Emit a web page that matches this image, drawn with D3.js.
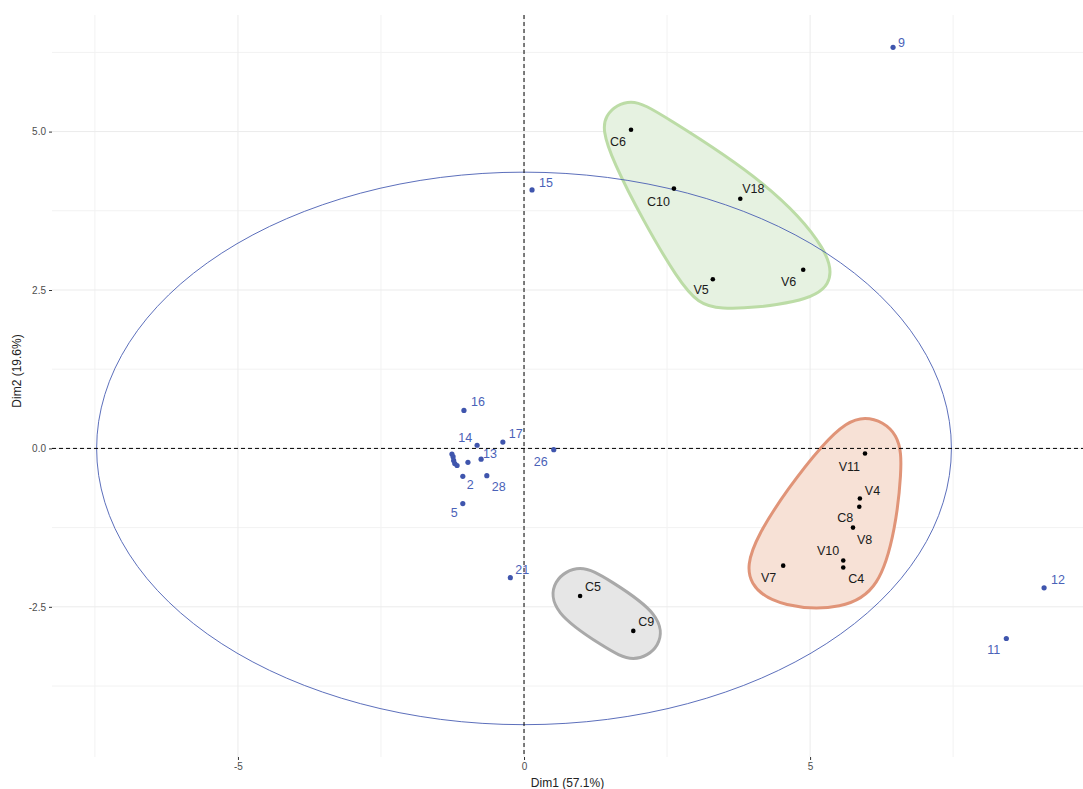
<!DOCTYPE html>
<html>
<head>
<meta charset="utf-8">
<script src="https://cdn.jsdelivr.net/npm/d3@7"></script>
<style>
  body { margin: 0; background: #fff; }
  svg { display: block; font-family: "Liberation Sans", Arial, sans-serif; }
</style>
</head>
<body>
<svg id="chart" width="1083" height="789"></svg>
<script>
// ---------------- DATA ----------------
const indNames = ["9", "15", "16", "14", "17", "13", "26", "2", "28", "5", "21", "12", "11", "", "", "", "", "", ""];
const indX = [6.45, 0.14, -1.05, -0.82, -0.37, -0.75, 0.52, -1.07, -0.65, -1.07, -0.24, 9.09, 8.43, -1.26, -1.24, -1.23, -1.21, -1.17, -0.98];
const indY = [6.33, 4.08, 0.60, 0.05, 0.10, -0.17, -0.02, -0.44, -0.43, -0.87, -2.04, -2.20, -3.00, -0.09, -0.13, -0.19, -0.24, -0.27, -0.22];

const varNames = ["C6", "C10", "V18", "V5", "V6", "V11", "V4", "C8", "V8", "V10", "C4", "V7", "C5", "C9"];
const varX = [1.87, 2.62, 3.78, 3.30, 4.88, 5.96, 5.87, 5.86, 5.75, 5.58, 5.58, 4.53, 0.98, 1.91];
const varY = [5.03, 4.10, 3.94, 2.67, 2.82, -0.08, -0.79, -0.92, -1.25, -1.77, -1.88, -1.85, -2.33, -2.88];
const varGroup = ["g", "g", "g", "g", "g", "o", "o", "o", "o", "o", "o", "o", "k", "k"];

const groupIds = ["g", "o", "k"];

const xTicks = [-5, 0, 5];
const xTickLabels = ["-5", "0", "5"];
const yTicks = [-2.5, 0, 2.5, 5];
const yTickLabels = ["-2.5", "0.0", "2.5", "5.0"];
const xMinor = [-7.5, -2.5, 2.5, 7.5];
const yMinor = [-3.75, -1.25, 1.25, 3.75, 6.25];

const ellipseRadii = [7.47, 4.36];
const xTitle = "Dim1 (57.1%)";
const yTitle = "Dim2 (19.6%)";

// ---------------- LAYOUT / STYLE ----------------
const W = 1083, H = 789;
const panel = { left: 52, right: 1083, top: 15, bottom: 757 };
const hullStyle = {
  g: { fill: "#e6f2e1", stroke: "#bcdca6", r: 33, n: 6 },
  o: { fill: "#f7e1d6", stroke: "#e09478", r: 42, n: 6 },
  k: { fill: "#e6e6e6", stroke: "#a9a9a9", r: 33, n: 6 }
};
const blue = "#3f55ad";
const blueText = "#4a62b8";

// label offsets (px) relative to points
const indLabelOff = {
  "9": [5, -5, "start"], "15": [7, -7, "start"], "16": [7, -9, "start"], "14": [-5, -8, "end"],
  "17": [6, -8, "start"], "13": [2, -6, "start"], "26": [-6, 12, "end"], "2": [4, 8, "start"],
  "28": [5, 11, "start"], "5": [-5, 9, "end"], "21": [5, -8, "start"], "12": [7, -8, "start"],
  "11": [-6, 11, "end"]
};
const varLabelOff = {
  "C6": [-5, 12, "end"], "C10": [-4, 13, "end"], "V18": [2, -10, "start"], "V5": [-4, 10, "end"],
  "V6": [-7, 12, "end"], "V11": [-5, 13, "end"], "V4": [5, -8, "start"], "C8": [-6, 11, "end"],
  "V8": [4, 12, "start"], "V10": [-4, -10, "end"], "C4": [5, 11, "start"], "V7": [-7, 12, "end"],
  "C5": [5, -9, "start"], "C9": [5, -9, "start"]
};

// ---------------- SCALES ----------------
const x = d3.scaleLinear().domain([-8.25, 9.77]).range([panel.left, panel.right]);
const y = d3.scaleLinear().domain([-4.87, 6.84]).range([panel.bottom, panel.top]);

const svg = d3.select("#chart");
svg.append("rect").attr("width", W).attr("height", H).attr("fill", "#fff");

// grid
const grid = svg.append("g");
grid.selectAll(".vminor").data(xMinor).join("line")
  .attr("x1", d => x(d)).attr("x2", d => x(d)).attr("y1", panel.top).attr("y2", panel.bottom)
  .attr("stroke", "#f2f2f2").attr("stroke-width", 1);
grid.selectAll(".hminor").data(yMinor).join("line")
  .attr("y1", d => y(d)).attr("y2", d => y(d)).attr("x1", panel.left).attr("x2", panel.right)
  .attr("stroke", "#f2f2f2").attr("stroke-width", 1);
grid.selectAll(".vmajor").data(xTicks).join("line")
  .attr("x1", d => x(d)).attr("x2", d => x(d)).attr("y1", panel.top).attr("y2", panel.bottom)
  .attr("stroke", "#ebebeb").attr("stroke-width", 1);
grid.selectAll(".hmajor").data(yTicks).join("line")
  .attr("y1", d => y(d)).attr("y2", d => y(d)).attr("x1", panel.left).attr("x2", panel.right)
  .attr("stroke", "#ebebeb").attr("stroke-width", 1);

// axes
const xAxis = d3.axisBottom(x).tickValues(xTicks).tickFormat((d, i) => xTickLabels[i]).tickSize(3).tickPadding(3);
const yAxis = d3.axisLeft(y).tickValues(yTicks).tickFormat((d, i) => yTickLabels[i]).tickSize(3).tickPadding(3);
const gx = svg.append("g").attr("transform", `translate(0,${panel.bottom})`).call(xAxis);
const gy = svg.append("g").attr("transform", `translate(${panel.left},0)`).call(yAxis);
[gx, gy].forEach(g => {
  g.select(".domain").remove();
  g.selectAll(".tick line").attr("stroke", "#333").attr("stroke-width", 1);
  g.selectAll(".tick text").attr("fill", "#4d4d4d").attr("font-size", 10).attr("font-family", "Liberation Sans, Arial, sans-serif");
});

svg.append("text").attr("x", (panel.left + panel.right) / 2).attr("y", 787)
  .attr("text-anchor", "middle").attr("font-size", 12).attr("fill", "#222").text(xTitle);
svg.append("text").attr("transform", `translate(21,${(panel.top + panel.bottom) / 2 - 15}) rotate(-90)`)
  .attr("text-anchor", "middle").attr("font-size", 12).attr("fill", "#222").text(yTitle);

// hulls
const vars = varNames.map((n, i) => ({ name: n, x: varX[i], y: varY[i], g: varGroup[i] }));
const hullG = svg.append("g");
groupIds.forEach(gid => {
  const st = hullStyle[gid];
  const pts = [];
  vars.filter(v => v.g === gid).forEach(v => {
    const px = x(v.x), py = y(v.y);
    for (let k = 0; k < st.n; k++) {
      const a = (k + 0.5) / st.n * Math.PI * 2;
      pts.push([px + st.r * Math.cos(a), py + st.r * Math.sin(a)]);
    }
  });
  const hull = d3.polygonHull(pts);
  hullG.append("path")
    .attr("d", d3.line().curve(d3.curveBasisClosed)(hull))
    .attr("fill", st.fill).attr("fill-opacity", 1)
    .attr("stroke", st.stroke).attr("stroke-width", 3);
});

// ellipse
svg.append("ellipse").attr("cx", x(0)).attr("cy", y(0))
  .attr("rx", x(ellipseRadii[0]) - x(0)).attr("ry", y(0) - y(ellipseRadii[1]))
  .attr("fill", "none").attr("stroke", "#4a5fb3").attr("stroke-width", 0.9);

// reference dashed lines
svg.append("line").attr("x1", panel.left).attr("x2", panel.right).attr("y1", y(0)).attr("y2", y(0))
  .attr("stroke", "#000").attr("stroke-width", 1).attr("stroke-dasharray", "4,3");
svg.append("line").attr("x1", x(0)).attr("x2", x(0)).attr("y1", panel.top).attr("y2", panel.bottom)
  .attr("stroke", "#000").attr("stroke-width", 1).attr("stroke-dasharray", "4,3");

// individuals
const inds = indNames.map((n, i) => ({ name: n, x: indX[i], y: indY[i] }));
svg.append("g").selectAll("circle").data(inds).join("circle")
  .attr("cx", d => x(d.x)).attr("cy", d => y(d.y)).attr("r", 2.6).attr("fill", blue);
svg.append("g").selectAll("text").data(inds.filter(d => d.name !== "")).join("text")
  .attr("x", d => x(d.x) + indLabelOff[d.name][0])
  .attr("y", d => y(d.y) + indLabelOff[d.name][1])
  .attr("dy", "0.35em")
  .attr("text-anchor", d => indLabelOff[d.name][2])
  .attr("font-size", 12.5).attr("fill", blueText).text(d => d.name);

// variables
svg.append("g").selectAll("circle").data(vars).join("circle")
  .attr("cx", d => x(d.x)).attr("cy", d => y(d.y)).attr("r", 2.3).attr("fill", "#000");
svg.append("g").selectAll("text").data(vars).join("text")
  .attr("x", d => x(d.x) + varLabelOff[d.name][0])
  .attr("y", d => y(d.y) + varLabelOff[d.name][1])
  .attr("dy", "0.35em")
  .attr("text-anchor", d => varLabelOff[d.name][2])
  .attr("font-size", 12.5).attr("fill", "#1a1a1a").text(d => d.name);
</script>
</body>
</html>
